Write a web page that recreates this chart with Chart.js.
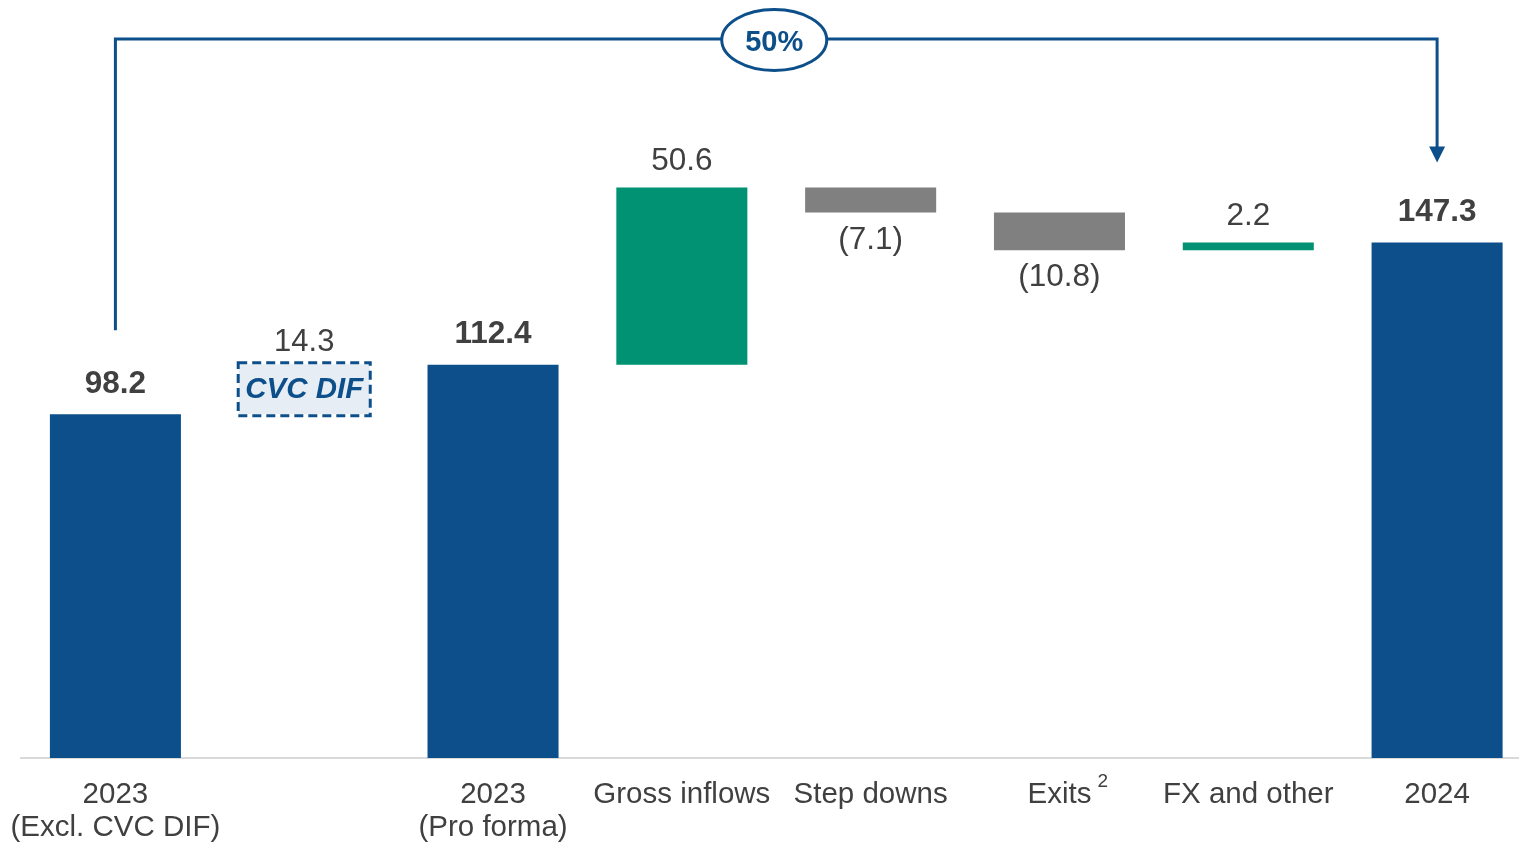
<!DOCTYPE html>
<html lang="en">
<head>
  <meta charset="UTF-8" />
  <title>Waterfall</title>
  <script src="https://cdn.jsdelivr.net/npm/chart.js"></script>
  <style>
    html, body {
      margin: 0;
      padding: 0;
      background: #ffffff;
      overflow: hidden;
    }
    #wrap {
      width: 1540px;
      height: 842px;
    }
  </style>
</head>
<body>
  <div id="wrap">
    <canvas id="chart" width="1540" height="842"></canvas>
  </div>

  <script>
    // categories and values
    const categories = [['2023', '(Excl. CVC DIF)'], '', ['2023', '(Pro forma)'], 'Gross inflows', 'Step downs', 'Exits', 'FX and other', '2024'];
    const values = [98.2, 14.3, 112.4, 50.6, -7.1, -10.8, 2.2, 147.3];
    const kinds = ['total', 'dif', 'total', 'change', 'change', 'change', 'change', 'total'];
    const valueLabels = ['98.2', '14.3', '112.4', '50.6', '(7.1)', '(10.8)', '2.2', '147.3'];
    const growthLabel = '50%';

    const BLUE = '#0d4f8a';
    const GREEN = '#009272';
    const GREY = '#808080';
    const TEXT = '#404040';
    const FONT = '"Liberation Sans", Arial, sans-serif';

    // floating ranges for the waterfall
    let running = 0;
    const ranges = values.map((v, i) => {
      if (kinds[i] === 'total') { running = v; return [0, v]; }
      const r = [running, running + v];
      running += v;
      return r;
    });
    const colors = values.map((v, i) => {
      if (kinds[i] === 'total') return BLUE;
      if (kinds[i] === 'dif') return '#e6edf4';
      return v >= 0 ? GREEN : GREY;
    });

    const labelsPlugin = {
      id: 'waterfallLabels',
      afterDatasetsDraw(chart) {
        const ctx = chart.ctx;
        const meta = chart.getDatasetMeta(0);
        ctx.save();
        meta.data.forEach((bar, i) => {
          const top = Math.min(bar.y, bar.base);
          const bottom = Math.max(bar.y, bar.base);
          ctx.textAlign = 'center';
          ctx.textBaseline = 'middle';
          ctx.fillStyle = TEXT;
          if (kinds[i] === 'dif') {
            // dashed box around the CVC DIF step
            ctx.strokeStyle = BLUE;
            ctx.lineWidth = 3;
            ctx.setLineDash([9, 5]);
            ctx.strokeRect(bar.x - bar.width / 2 - 0.5, top - 1.5, bar.width + 1, bottom - top + 3);
            ctx.setLineDash([]);
            ctx.font = 'italic bold 29.5px ' + FONT;
            ctx.fillStyle = BLUE;
            ctx.fillText('CVC DIF', bar.x, (top + bottom) / 2 + 1);
            ctx.fillStyle = TEXT;
            ctx.font = '31px ' + FONT;
            ctx.fillText(valueLabels[i], bar.x, top - 22);
          } else if (kinds[i] === 'total') {
            ctx.font = 'bold 31.5px ' + FONT;
            ctx.fillText(valueLabels[i], bar.x, top - 30.5);
          } else if (values[i] >= 0) {
            ctx.font = '31.5px ' + FONT;
            ctx.fillText(valueLabels[i], bar.x, top - 26.5);
          } else {
            ctx.font = '31.5px ' + FONT;
            ctx.fillText(valueLabels[i], bar.x, bottom + 27.5);
          }
        });

        // superscript on "Exits"
        const xs = chart.scales.x;
        const exitIdx = 5;
        ctx.font = '29.5px ' + FONT;
        const w = ctx.measureText(categories[exitIdx]).width;
        ctx.font = '19px ' + FONT;
        ctx.textAlign = 'left';
        ctx.fillStyle = TEXT;
        ctx.fillText('2', xs.getPixelForValue(exitIdx) + w / 2 + 6, 782);

        // growth connector from first to last total
        const first = meta.data[0];
        const last = meta.data[meta.data.length - 1];
        const lineY = chart.chartArea.top + 39;
        const startY = Math.min(first.y, first.base) - 84;
        const endY = Math.min(last.y, last.base) - 80;
        ctx.strokeStyle = BLUE;
        ctx.lineWidth = 3;
        ctx.beginPath();
        ctx.moveTo(first.x, startY);
        ctx.lineTo(first.x, lineY);
        ctx.lineTo(last.x, lineY);
        ctx.lineTo(last.x, endY - 14);
        ctx.stroke();
        ctx.fillStyle = BLUE;
        ctx.beginPath();
        ctx.moveTo(last.x - 8, endY - 16);
        ctx.lineTo(last.x + 8, endY - 16);
        ctx.lineTo(last.x, endY);
        ctx.closePath();
        ctx.fill();

        const cx = (first.x + last.x) / 2 - 2;
        ctx.beginPath();
        ctx.ellipse(cx, lineY + 1, 52.5, 30.5, 0, 0, Math.PI * 2);
        ctx.fillStyle = '#ffffff';
        ctx.fill();
        ctx.stroke();
        ctx.font = 'bold 29px ' + FONT;
        ctx.textAlign = 'center';
        ctx.textBaseline = 'middle';
        ctx.fillStyle = BLUE;
        ctx.fillText(growthLabel, cx, lineY + 4);
        ctx.restore();
      }
    };

    const ctx = document.getElementById('chart').getContext('2d');
    const chart = new Chart(ctx, {
      type: 'bar',
      data: {
        labels: categories,
        datasets: [{
          data: ranges,
          backgroundColor: colors,
          borderWidth: 0,
          barPercentage: 0.694,
          categoryPercentage: 1.0
        }]
      },
      options: {
        responsive: false,
        animation: false,
        layout: {
          padding: { left: 21, right: 8.5, top: 0, bottom: 0 }
        },
        plugins: {
          legend: { display: false },
          tooltip: { enabled: false }
        },
        scales: {
          x: {
            grid: { display: false, drawTicks: false },
            border: { display: true, color: '#d9d9d9', width: 2 },
            ticks: {
              color: TEXT,
              font: { family: FONT, size: 29.5, lineHeight: 1.12 },
              padding: 20,
              maxRotation: 0,
              autoSkip: false
            },
            afterFit(scale) {
              scale.height = 84;
              scale.paddingLeft = 0;
              scale.paddingRight = 0;
            }
          },
          y: {
            display: false,
            min: 0,
            max: 216.6
          }
        }
      },
      plugins: [labelsPlugin]
    });
  </script>
</body>
</html>
